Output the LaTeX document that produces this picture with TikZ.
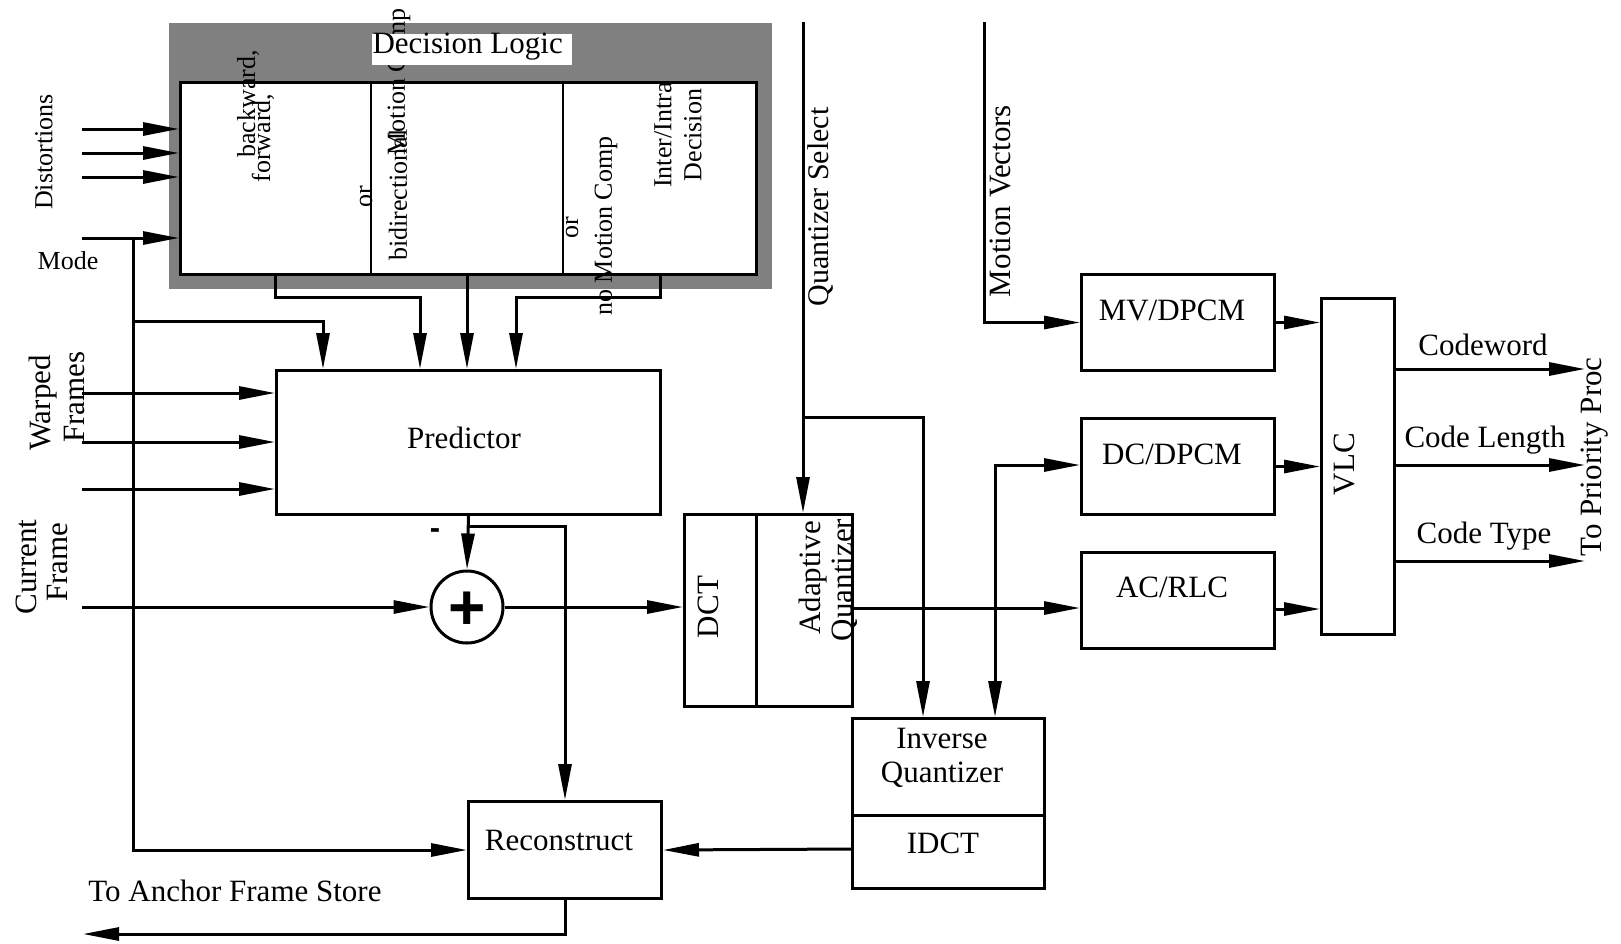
\documentclass[tikz,border=0pt]{standalone}
\usepackage{fontspec}
\setmainfont{Liberation Serif}
\newfontfamily\plusfont{Liberation Sans}
\usetikzlibrary{arrows.meta}
\definecolor{dlgray}{RGB}{128,128,128}
\begin{document}
\begin{tikzpicture}[x=1pt,y=-1pt,line width=3pt,
  arr/.style={-{Triangle[length=36pt,width=13pt]}},
  box/.style={draw,line width=3pt,fill=white,inner sep=0pt,anchor=north west},
  lab/.style={font=\fontsize{31}{34}\selectfont,inner sep=0pt},
  slab/.style={font=\fontsize{26}{28}\selectfont,inner sep=0pt},
  vlab/.style={lab,rotate=90},
  vslab/.style={slab,rotate=90}]
\path[use as bounding box,fill=white] (0,0) rectangle (1621,943);

% ---------- Decision logic ----------
\node[fill=dlgray,draw=none,anchor=north west,minimum width=603pt,minimum height=266pt,inner sep=0pt] (dlbg) at (167,21) {};
\node[box,minimum width=576pt,minimum height=192pt] (dl) at (179,81) {};
\coordinate (dv1t) at (371,81); \coordinate (dv1b) at (371,273);
\coordinate (dv2t) at (563,81); \coordinate (dv2b) at (563,273);
\draw[line width=2.5pt] (dv1t) -- (dv1b);
\draw[line width=2.5pt] (dv2t) -- (dv2b);

% ---------- boxes ----------
\node[box,minimum width=384pt,minimum height=144pt] (pred) at (275,369) {};
\node[draw,circle,minimum size=72pt,inner sep=0pt,fill=white] (sum) at (467,607) {};
\node[box,minimum width=168pt,minimum height=192pt] (dct) at (683,513) {};
\coordinate (dcd1) at (756,513); \coordinate (dcd2) at (756,705);
\draw (dcd1) -- (dcd2);
\node[box,minimum width=192pt,minimum height=170pt] (iq) at (851,717) {};
\coordinate (iqd1) at (851,815); \coordinate (iqd2) at (1043,815);
\draw (iqd1) -- (iqd2);
\node[box,minimum width=193pt,minimum height=97pt] (rec) at (467,800) {};
\node[box,minimum width=193pt,minimum height=96pt] (mv) at (1080,273) {};
\node[box,minimum width=193pt,minimum height=96pt] (dc) at (1080,417) {};
\node[box,minimum width=193pt,minimum height=96pt] (ac) at (1080,551) {};
\node[box,minimum width=73pt,minimum height=336pt] (vlc) at (1320,297) {};

% ---------- coordinates ----------
\coordinate (d1) at (82,129); \coordinate (d2) at (82,153); \coordinate (d3) at (82,177);
\coordinate (m0) at (82,238); \coordinate (mj) at (133,238); \coordinate (mb) at (133,321);
\coordinate (p1) at (323,369); \coordinate (p2) at (420,369);
\coordinate (p3) at (467,369); \coordinate (p4) at (516,369);
\coordinate (o1) at (275,273); \coordinate (o2) at (467,273); \coordinate (o3) at (660,273);
\coordinate (w1) at (82,393); \coordinate (w2) at (82,442); \coordinate (w3) at (82,489);
\coordinate (c0) at (82,607);
\coordinate (pb) at (467,526);
\coordinate (qs0) at (803,22); \coordinate (aqn) at (803,513); \coordinate (qsb) at (803,417);
\coordinate (iqa) at (923,717); \coordinate (iqb) at (995,717);
\coordinate (aqo) at (851,608); \coordinate (dcb) at (995,608); \coordinate (dcin) at (1080,465);
\coordinate (mv0) at (984,22);
\coordinate (aco) at (1273,609);
\coordinate (v1) at (1393,369); \coordinate (v2) at (1393,465); \coordinate (v3) at (1393,561);
\coordinate (e1) at (1585,369); \coordinate (e2) at (1585,465); \coordinate (e3) at (1585,561);
\coordinate (ido) at (851,849);
\coordinate (anch) at (83,934);

% ---------- connectors ----------
\draw[arr] (d1) -- (d1 -| dl.west);
\draw[arr] (d2) -- (d2 -| dl.west);
\draw[arr] (d3) -- (d3 -| dl.west);
\draw[arr] (m0) -- (m0 -| dl.west);
\draw[arr] (mj) |- (rec.west);
\draw[arr] (mb) -| (p1);
\draw[arr] (o1) -- ++(0,24) -| (p2);
\draw[arr] (o2) -- (p3);
\draw[arr] (o3) -- ++(0,24) -| (p4);
\draw[arr] (w1) -- (w1 -| pred.west);
\draw[arr] (w2) -- (w2 -| pred.west);
\draw[arr] (w3) -- (w3 -| pred.west);
\draw[arr] (c0) -- (sum.west);
\draw[arr] (pred.south) -- (sum.north);
\draw[arr] (pb) -| (rec.north);
\draw[arr] (sum.east) -- (sum.east -| dct.west);
\draw[arr] (qs0) -- (aqn);
\draw[arr] (qsb) -| (iqa);
\draw[arr] (aqo) -- (aqo -| ac.west);
\draw[arr] (dcb) |- (dcin);
\draw[arr] (dcb) -- (iqb);
\draw[arr] (mv0) |- (mv.west);
\draw[arr] (mv.east) -- (mv.east -| vlc.west);
\draw[arr] (dc.east) -- (dc.east -| vlc.west);
\draw[arr] (aco) -- (aco -| vlc.west);
\draw[arr] (v1) -- (e1);
\draw[arr] (v2) -- (e2);
\draw[arr] (v3) -- (e3);
\draw[arr] (ido) -- (rec.east);
\draw[arr] (rec.south) |- (anch);

% ---------- texts in decision logic ----------
\node[vslab] (t1) at (248,104) {backward,};
\node[vslab] (t2) at (263,138) {forward,};
\node[vslab] (t3) at (366,197) {or};
\node[vslab] (t4) at (398,195) {bidirectional};
\node[vslab] (t5) at (399,82) {Motion Comp};
\node[vslab] (t6) at (572,228) {or};
\node[vslab] (t7) at (606,226) {no Motion Comp};
\node[vslab] (t8) at (663,135) {Inter/Intra};
\node[vslab] (t9) at (693,135) {Decision};
\node[fill=white,anchor=north west,minimum width=200pt,minimum height=31pt,inner sep=0pt] (dltbg) at (370,32) {};
\node[lab,anchor=base west] (dlt) at (371,53) {Decision Logic};

% ---------- other texts ----------
\node[vslab] (dist) at (44,152) {Distortions};
\node[slab,anchor=base] (mode) at (68,269) {Mode};
\node[vlab] (warp1) at (43,403) {Warped};
\node[vlab] (warp2) at (75,397) {Frames};
\node[vlab] (cur1) at (26,567) {Current};
\node[vlab] (cur2) at (58,562) {Frame};
\node[lab,anchor=base] (predt) at (464,448) {Predictor};
\node[font=\plusfont\bfseries\fontsize{64}{64}\selectfont,inner sep=0pt] (plus) at (467,611) {+};
\node[font=\plusfont\bfseries\fontsize{31}{34}\selectfont,inner sep=0pt] (minus) at (435,534) {-};
\node[vlab] (dctt) at (708,607) {DCT};
\node[vlab] (aqt1) at (813,578) {Adaptive};
\node[vlab] (aqt2) at (845,580) {Quantizer};
\node[font=\fontsize{30}{32}\selectfont,inner sep=0pt,rotate=90] (qst) at (821,207) {Quantizer Select};
\node[vlab] (mvvt) at (1000,201) {Motion Vectors};
\node[lab,anchor=base] (iqt1) at (942,748) {Inverse};
\node[lab,anchor=base] (iqt2) at (942,782) {Quantizer};
\node[lab,anchor=base] (iqt3) at (943,853) {IDCT};
\node[lab,anchor=base] (rect) at (559,850) {Reconstruct};
\node[lab,anchor=base] (anct) at (235,901) {To Anchor Frame Store};
\node[lab,anchor=base] (mvt) at (1172,320) {MV/DPCM};
\node[lab,anchor=base] (dct2) at (1172,464) {DC/DPCM};
\node[lab,anchor=base] (act) at (1172,597) {AC/RLC};
\node[vlab] (vlct) at (1344,464) {VLC};
\node[lab,anchor=base] (cw) at (1483,355) {Codeword};
\node[lab,anchor=base] (cl) at (1485,447) {Code Length};
\node[lab,anchor=base] (ctp) at (1484,543) {Code Type};
\node[vlab] (tpp) at (1595,457) {To Priority Proc};
\end{tikzpicture}
\end{document}
